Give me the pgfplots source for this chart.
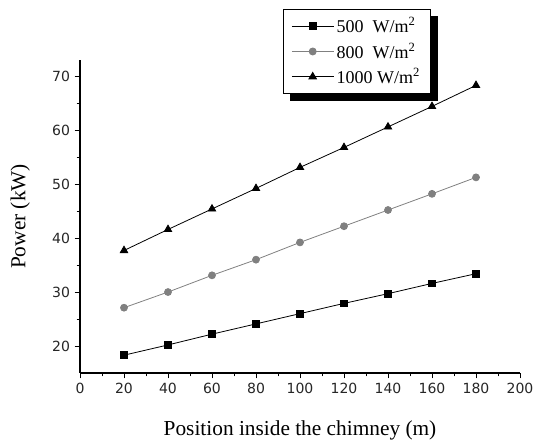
\documentclass[border=0pt]{standalone}
\usepackage{fontspec}
\setmainfont{Liberation Serif}
\newfontfamily\tickfont{DejaVu Sans}
\usepackage{pgfplots}
\pgfplotsset{compat=1.18}
\usetikzlibrary{backgrounds}
\begin{document}
\begin{tikzpicture}
\path[use as bounding box] (0,0) rectangle (400.5pt,333.75pt);
\begin{axis}[
  at={(60pt,54pt)}, anchor=south west,
  scale only axis, width=330pt, height=234.75pt,
  xmin=0, xmax=200, ymin=15, ymax=73,
  axis lines=left, axis line style={-, line width=0.8pt},
  xtick={0,20,...,200}, ytick={20,30,...,70},
  minor tick num=1, tick align=outside,
  major tick length=4pt, minor tick length=2.5pt,
  tick style={black, line width=0.7pt},
  /pgf/number format/assume math mode=true,
  ticklabel style={font=\tickfont\fontsize{10.5pt}{12pt}\selectfont, text=black!85},
  xlabel={Position inside the chimney (m)},
  ylabel={Power (kW)},
  label style={font=\fontsize{16pt}{18pt}\selectfont},
  xlabel style={at={(axis description cs:0.5,-0.182)}, anchor=center},
  ylabel style={at={(axis description cs:-0.136,0.5)}, anchor=center},
  legend style={name=leg, at={(rel axis cs:0.461,1.163)}, anchor=north west,
    draw=black, line width=0.8pt, font=\fontsize{13.5pt}{15pt}\selectfont,
    fill=white, inner xsep=6pt, inner ysep=4pt, row sep=2pt},
  legend cell align=left,
  legend image code/.code={%
    \draw[mark repeat=2, mark phase=2, line width=0.7pt] plot coordinates {(0cm,0cm) (0.55cm,0cm) (1.1cm,0cm)};},
]
\addplot[black, line width=0.6pt, mark=square*, mark size=2.6pt, mark options={solid}] coordinates {
(20,18.3) (40,20.2) (60,22.2) (80,24.1) (100,26.0) (120,27.9) (140,29.7) (160,31.6) (180,33.4)};
\addlegendentry{500\ \ W/m\textsuperscript{2}}
\addplot[gray, line width=0.6pt, mark=*, mark size=2.6pt, mark options={fill=gray}] coordinates {
(20,27.1) (40,30.0) (60,33.1) (80,36.0) (100,39.2) (120,42.2) (140,45.2) (160,48.2) (180,51.25)};
\addlegendentry{800\ \ W/m\textsuperscript{2}}
\addplot[black, line width=0.6pt, mark=triangle*, mark size=3.2pt] coordinates {
(20,37.7) (40,41.6) (60,45.4) (80,49.2) (100,53.1) (120,56.8) (140,60.6) (160,64.4) (180,68.3)};
\addlegendentry{1000 W/m\textsuperscript{2}}
\end{axis}
\begin{pgfonlayer}{background}
\fill[black] ([xshift=5pt,yshift=-5pt]leg.south west) rectangle ([xshift=5pt,yshift=-5pt]leg.north east);
\end{pgfonlayer}
\end{tikzpicture}
\end{document}
